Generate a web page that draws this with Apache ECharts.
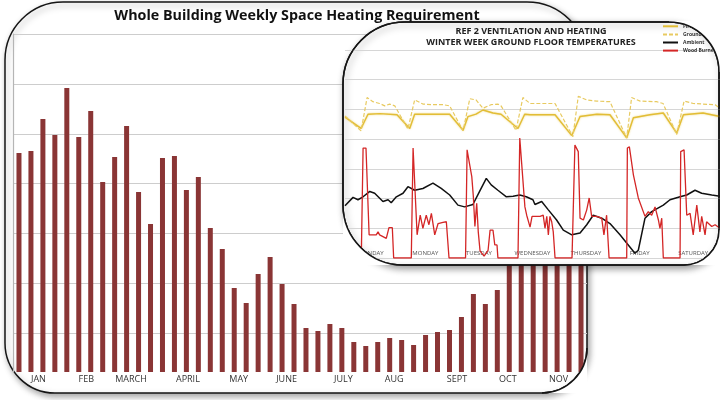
<!DOCTYPE html>
<html><head><meta charset="utf-8">
<script src="https://cdn.jsdelivr.net/npm/echarts@6/dist/echarts.min.js"></script>
<style>html,body{margin:0;padding:0;background:#fff}#c{width:720px;height:400px}</style>
</head><body><div id="c"></div>
<script>
// Weekly space heating requirement (arbitrary units, no axis labels in source)
const weekValues = [2190,2210,2530,2370,2840,2350,2610,1900,2150,2460,1800,
  1480,2140,2160,1820,1950,1440,1230,840,690,980,
  1150,880,680,440,410,480,440,300,260,300,
  340,320,270,370,400,420,550,780,680,820,
  1500,1800,2000,2100,2200,2300,2400];
const weekCategories = weekValues.map((v,i)=>'Week '+(i+1));
const monthNames = ['JAN','FEB','MARCH','APRIL','MAY','JUNE','JULY','AUG','SEPT','OCT','NOV'];
const monthPos = [2.22,6.19,9.99,14.55,18.77,22.95,27.55,31.94,37.2,41.3,45.7]; // in weeks

// Inset: winter week temperatures [hour, value]
const dayNames = ['SUNDAY','MONDAY','TUESDAY','WEDNESDAY','THURSDAY','FRIDAY','SATURDAY'];
const firstFloor = [[0,23.7],[7.2,21.8],[10.3,24.2],[15.7,24.3],[23.3,24.1],[29.0,21.8],[31.2,24.2],[38.1,24.2],[46.9,24.2],[52.9,21.5],[55.1,23.8],[58.7,24.2],[61.8,24.9],[66.3,24.4],[69.9,24.2],[77.5,21.8],[80.5,24.2],[82.9,24.1],[94.1,24.1],[101.6,20.6],[105.3,23.8],[112.8,24.2],[118.7,24.1],[126.2,20.2],[129.2,23.6],[136.6,24.1],[142.6,24.4],[148.6,21.0],[151.6,24.1],[160.4,24.4],[168,23.8]];
const groundFloor = [[0,23.9],[7.2,21.4],[9.9,27.0],[12.5,26.3],[15.5,26.0],[17.8,25.6],[20.0,25.9],[22.3,25.6],[28.2,21.7],[31.2,26.6],[34.9,25.9],[39.4,25.8],[43.9,25.8],[46.9,25.6],[52.9,21.4],[55.9,26.8],[58.7,26.6],[61.8,25.2],[65.4,25.8],[68.5,25.9],[69.9,25.6],[76.6,21.5],[79.7,27.0],[82.9,26.0],[94.1,26.0],[102.1,20.4],[104.5,27.2],[108.3,26.6],[112.8,26.4],[118.7,26.3],[126.2,20.2],[128.4,27.0],[132.2,26.4],[139.6,26.3],[142.5,26.0],[148.6,20.8],[151.9,26.4],[156.0,26.0],[160.4,25.9],[165.8,25.8],[168,25.2]];
const ambient = [[0,8.8],[3.6,10.2],[5.8,9.8],[8.1,10.3],[11.1,11.2],[13.3,10.9],[17.0,9.5],[19.3,9.8],[20.7,9.3],[23.0,10.3],[26.0,10.9],[28.2,12.0],[31.2,11.4],[34.9,11.7],[39.4,12.6],[43.1,11.7],[46.9,10.6],[50.6,8.9],[53.6,8.6],[57.3,9.0],[60.3,11.2],[63.3,13.4],[65.5,12.3],[68.5,11.4],[72.3,10.3],[75.3,10.4],[78.3,10.6],[81.2,10.3],[84.2,9.8],[85.1,9.0],[88.1,9.5],[91.1,8.1],[94.8,6.4],[97.8,4.7],[101.6,3.9],[105.3,4.2],[108.3,5.6],[111.2,7.2],[115.0,6.7],[118.7,5.8],[123.2,3.9],[126.9,2.2],[129.9,0.8],[131.4,1.3],[134.4,6.7],[137.4,7.8],[142.6,8.9],[145.6,9.8],[150.1,10.3],[153.1,10.6],[156.8,11.4],[159.8,10.9],[164.3,10.6],[168,10.4]];
const woodBurner = [[0,0],[7.3,0],[8.1,18.5],[9.4,18.5],[10.8,3.9],[14.0,3.9],[14.8,4.4],[15.5,3.9],[16.3,4.2],[17.0,3.6],[18.5,3.3],[19.7,5.1],[21.2,5.1],[21.8,0],
  [29.7,0],[30.5,18.5],[31.1,18.2],[32.3,3.9],[33.7,7.2],[34.9,5.0],[36.4,7.2],[37.6,5.6],[38.7,7.5],[40.2,3.9],[41.7,5.8],[43.9,6.0],[45.4,6.1],[46.6,0],
  [54.0,0],[54.7,18.2],[55.2,17.1],[56.8,13.7],[57.5,10.3],[58.2,5.3],[59.0,9.2],[59.7,4.4],[60.5,1.2],[62.3,0.3],[64.1,1.3],[65.0,4.7],[66.3,4.7],[67.1,2.2],[68.1,2.2],[68.5,0],
  [77.5,0],[78.3,20.2],[79.1,19.9],[80.6,8.6],[81.4,7.2],[82.9,5.2],[83.8,7.0],[87.4,7.0],[88.8,7.2],[89.6,5.0],[90.4,7.0],[91.1,3.9],[91.8,7.0],[92.6,6.1],[93.3,4.4],[94.1,0],
  [101.7,0],[103.0,19.0],[104.5,17.9],[105.3,6.7],[106.8,6.4],[108.3,8.1],[109.4,10.1],[110.5,7.0],[112.8,7.0],[115.0,6.7],[116.0,3.9],[117.2,7.2],[118.3,0],
  [126.2,0],[126.5,18.5],[127.4,18.7],[129.2,14.0],[131.4,10.1],[134.4,7.0],[135.9,7.8],[137.4,7.2],[138.9,8.6],[140.4,6.4],[141.1,5.0],[141.9,6.7],[142.6,0],
  [150.1,0],[150.4,17.9],[151.9,18.2],[153.1,7.2],[154.6,7.5],[156.0,3.9],[157.6,8.9],[159.0,4.4],[159.8,7.0],[161.3,3.9],[162.0,6.1],[164.3,5.3],[165.8,5.6],[168,5.0]];

// fine label axis so month names can sit between weeks
const SUB = 4;
const monthSlots = new Array(weekValues.length*SUB).fill('');
monthNames.forEach((m,i)=>{ monthSlots[Math.max(0,Math.round(monthPos[i]*SUB-0.5))] = m; });
const monthAxisData = monthSlots.map((v,i)=>String(i));

// panel corner masks (decoration only)
function arcPts(cx, cy, r, a0, a1){
  const pts=[]; const n=24;
  for(let i=0;i<=n;i++){ const a=(a0+(a1-a0)*i/n)*Math.PI/180; pts.push([cx+r*Math.cos(a), cy+r*Math.sin(a)]); }
  return pts;
}
const TR = 50; // inset top-right corner radius
const maskStyle = {fill:'#fff', stroke:null};
const masks = [
  {type:'polygon', z:3, silent:true, shape:{points:[[587,393],...arcPts(542,348,45,0,90)]}, style:maskStyle},
  {type:'arc', z:4, silent:true, shape:{cx:542,cy:348,r:45,startAngle:0,endAngle:Math.PI/2,clockwise:true},
   style:{fill:'none', stroke:'#151515', lineWidth:1.5}},
  {type:'polygon', z:20, silent:true, shape:{points:[[343,265],...arcPts(403,205,60,90,180)]}, style:maskStyle},
  {type:'polygon', z:20, silent:true, shape:{points:[[721,21],[721,22+TR],...arcPts(719-TR,22+TR,TR,0,-90),[719-TR,21]]}, style:maskStyle},
  {type:'polygon', z:20, silent:true, shape:{points:[[721,229],...arcPts(684,230,35,0,90),[721,265]]}, style:maskStyle}
];

const chart = echarts.init(document.getElementById('c'), null, {renderer:'canvas'});
const FONT = 'Open Sans';
chart.setOption({
  animation:false,
  backgroundColor:'#fff',
  textStyle:{fontFamily:FONT},
  title:[
    {text:'Whole Building Weekly Space Heating Requirement', left:292, top:4, textAlign:'center',
     textStyle:{fontFamily:FONT, fontWeight:'bold', fontSize:14.3, color:'#111'}},
    {text:'REF 2 VENTILATION AND HEATING\nWINTER WEEK GROUND FLOOR TEMPERATURES', left:526, top:21, textAlign:'center', z:15,
     textStyle:{fontFamily:FONT, fontWeight:'bold', fontSize:9, lineHeight:11, color:'#222'}}
  ],
  legend:{
    data:['First Floor','Ground Floor','Ambient','Wood Burner'],
    orient:'vertical', left:662, top:23.5, padding:0, itemWidth:15, itemHeight:7, itemGap:2.5, z:15,
    selectedMode:false, itemStyle:{opacity:0},
    textStyle:{fontSize:5, color:'#333', fontWeight:'bold', fontFamily:FONT}
  },
  grid:[
    {left:13, top:34, width:574, height:338},
    {left:345, top:50, width:375, height:208}
  ],
  xAxis:[
    {gridIndex:0, type:'category', data:weekCategories, position:'bottom',
     axisLine:{show:false}, axisTick:{show:false}, axisLabel:{show:false}},
    {gridIndex:0, type:'category', data:monthAxisData, position:'bottom',
     axisLine:{show:false}, axisTick:{show:false},
     axisLabel:{interval:0, margin:3, fontSize:9, color:'#333', fontFamily:FONT,
       formatter:(v,idx)=>monthSlots[idx]}},
    {gridIndex:1, type:'value', min:0, max:168, show:false},
    {gridIndex:1, type:'category', data:dayNames, position:'bottom', z:12,
     axisLine:{show:false}, axisTick:{show:false},
     axisLabel:{inside:true, margin:2, fontSize:6, color:'#555', fontFamily:FONT}}
  ],
  yAxis:[
    {gridIndex:0, type:'value', min:0, max:3380, position:'left',
     axisLine:{show:true, lineStyle:{color:'#b5b5b5', width:1.2}}, axisTick:{show:false},
     axisLabel:{show:false}, splitLine:{show:false}},
    {gridIndex:0, type:'value', inverse:true, min:0, max:6.774, interval:1, position:'left',
     axisLine:{show:false}, axisTick:{show:false}, axisLabel:{show:false},
     splitLine:{show:true, showMaxLine:false, lineStyle:{color:'#cdcdcd', width:1.2}}},
    {gridIndex:1, type:'value', min:0, max:35, interval:5, z:12,
     axisLine:{show:false}, axisTick:{show:false}, axisLabel:{show:false},
     splitLine:{show:true, lineStyle:{color:'#d6d6d6', width:1.2}}}
  ],
  series:[
    {type:'bar', name:'Weekly heating', xAxisIndex:0, yAxisIndex:0, data:weekValues,
     barWidth:5, itemStyle:{color:'#8a3535'}, z:2},
    {type:'line', name:'First Floor', xAxisIndex:2, yAxisIndex:2, data:firstFloor, symbol:'none', z:15,
     lineStyle:{color:'#e2bd36', width:1.4, shadowBlur:2, shadowColor:'rgba(235,205,90,0.8)'}},
    {type:'line', name:'Ground Floor', xAxisIndex:2, yAxisIndex:2, data:groundFloor, symbol:'none', z:15,
     lineStyle:{color:'#e8ca60', width:1.2, type:[4,2]}},
    {type:'line', name:'Ambient', xAxisIndex:2, yAxisIndex:2, data:ambient, symbol:'none', z:16,
     lineStyle:{color:'#111', width:1.5}},
    {type:'line', name:'Wood Burner', xAxisIndex:2, yAxisIndex:2, data:woodBurner, symbol:'none', z:16,
     lineStyle:{color:'#d42626', width:1.3}}
  ],
  graphic:{elements:[
    {type:'rect', z:-10, silent:true, shape:{x:5,y:2,width:582,height:391,r:[58,60,45,50]},
     style:{fill:'#fff', stroke:'#151515', lineWidth:1.5, shadowBlur:6, shadowColor:'rgba(0,0,0,0.35)', shadowOffsetX:2, shadowOffsetY:3}},
    {type:'rect', z:10, silent:true, shape:{x:343,y:22,width:376,height:243,r:[62,TR,35,60]},
     style:{fill:'#fff', stroke:'#151515', lineWidth:1.5, shadowBlur:7, shadowColor:'rgba(0,0,0,0.4)', shadowOffsetX:2, shadowOffsetY:3}},
    ...masks,
    {type:'rect', z:21, silent:true, shape:{x:343,y:22,width:376,height:243,r:[62,TR,35,60]},
     style:{fill:'none', stroke:'#151515', lineWidth:1.5}}
  ]}
});
</script></body></html>
